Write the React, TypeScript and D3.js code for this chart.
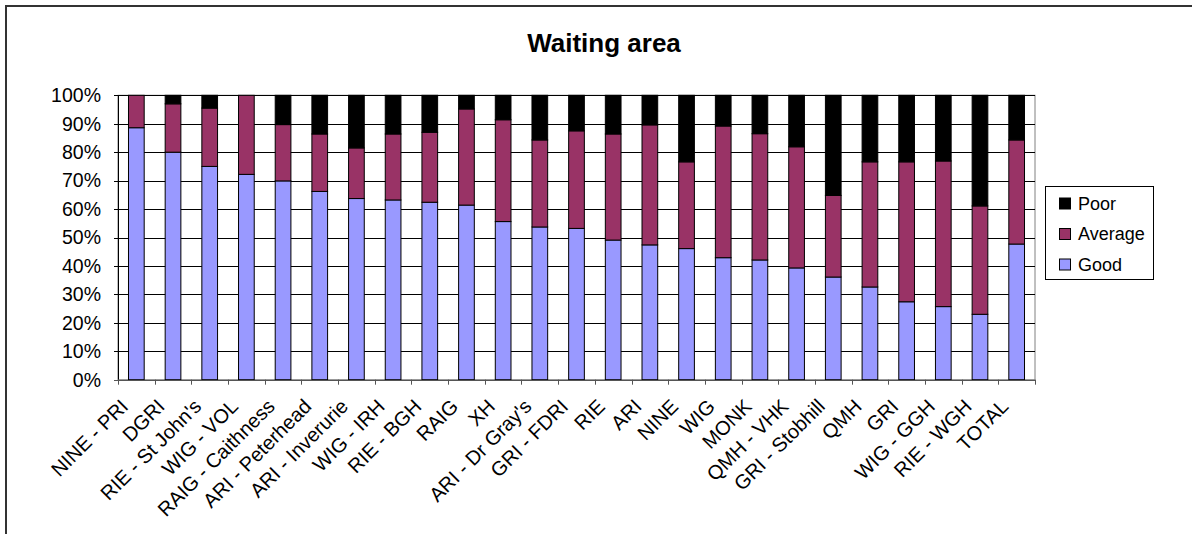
import React from "react";
import * as d3 from "d3";

const categories = [
  "NINE - PRI", "DGRI", "RIE - St John's", "WIG - VOL", "RAIG - Caithness",
  "ARI - Peterhead", "ARI - Inverurie", "WIG - IRH", "RIE - BGH", "RAIG",
  "XH", "ARI - Dr Gray's", "GRI - FDRI", "RIE", "ARI", "NINE", "WIG", "MONK",
  "QMH - VHK", "GRI - Stobhill", "QMH", "GRI", "WIG - GGH", "RIE - WGH", "TOTAL",
];
const good = [
  88.6, 80.0, 75.0, 72.2, 69.9, 66.2, 63.7, 63.2, 62.4, 61.4, 55.6, 53.7, 53.2,
  49.1, 47.4, 46.1, 42.9, 42.1, 39.3, 36.1, 32.6, 27.4, 25.7, 23.0, 47.7,
];
const average = [
  11.4, 17.0, 20.5, 27.8, 19.8, 20.2, 17.8, 23.2, 24.6, 33.8, 35.8, 30.6, 34.3,
  37.3, 42.2, 30.5, 46.3, 44.4, 42.6, 28.7, 44.0, 49.2, 51.2, 38.1, 36.6,
];
const poor = [
  0.0, 3.0, 4.5, 0.0, 10.3, 13.6, 18.5, 13.6, 13.0, 4.8, 8.6, 15.7, 12.5,
  13.6, 10.4, 23.4, 10.8, 13.5, 18.1, 35.2, 23.4, 23.4, 23.1, 38.9, 15.7,
];
const seriesNames = ["Good", "Average", "Poor"];
const seriesColors = ["#9999FF", "#993366", "#000000"];
const yTicks = [0, 10, 20, 30, 40, 50, 60, 70, 80, 90, 100];
const title = "Waiting area";

const W = 1192;
const H = 534;
const plot = { left: 118, right: 1035, top: 95.3, bottom: 379.7 };
const FONT = "'Liberation Sans', Arial, sans-serif";

export default function App() {
  const rows = categories.map((c, i) => ({ cat: c, Good: good[i], Average: average[i], Poor: poor[i] }));
  const stack = d3.stack<any>().keys(seriesNames)(rows);

  const x = d3
    .scaleBand<string>()
    .domain(categories)
    .range([plot.left, plot.right])
    .paddingInner(0.572)
    .paddingOuter(0.286);
  const y = d3.scaleLinear().domain([0, 100]).range([plot.bottom, plot.top]);
  const step = x.step();
  const bw = x.bandwidth();
  const boundaries = categories.map((c) => (x(c) as number) + bw / 2 - step / 2).concat([plot.right]);

  const legendItems = [
    { name: "Poor", color: seriesColors[2] },
    { name: "Average", color: seriesColors[1] },
    { name: "Good", color: seriesColors[0] },
  ];

  return (
    <svg
      width={W}
      height={H}
      style={{ position: "absolute", left: 0, top: 0, background: "#fff" }}
      fontFamily={FONT}
    >
      {/* outer chart frame */}
      <rect x={6} y={6} width={W + 20} height={H + 20} fill="#fff" stroke="#333" strokeWidth={2} />

      <text x={604} y={52} textAnchor="middle" fontSize={26} fontWeight="bold" fill="#000">
        {title}
      </text>

      {/* plot area */}
      <rect
        x={plot.left}
        y={plot.top}
        width={plot.right - plot.left}
        height={plot.bottom - plot.top}
        fill="#fff"
        stroke="#808080"
        strokeWidth={1}
      />
      {yTicks.map((t) => (
        <g key={t}>
          <line x1={plot.left - 4} x2={plot.right} y1={Math.round(y(t)) + 0.5} y2={Math.round(y(t)) + 0.5} stroke="#000" strokeWidth={1} />
          <text x={101} y={y(t)} dy="0.35em" textAnchor="end" fontSize={19.5} fill="#000">
            {t}%
          </text>
        </g>
      ))}

      {/* stacked bars */}
      {stack.map((s, si) => (
        <g key={s.key} fill={seriesColors[si]} stroke="#000" strokeWidth={1}>
          {s.map((d, i) =>
            d[1] - d[0] > 0 ? (
              <rect
                key={i}
                x={x(categories[i]) as number}
                y={y(d[1])}
                width={bw}
                height={y(d[0]) - y(d[1])}
              />
            ) : null
          )}
        </g>
      ))}

      {/* axes */}
      <line x1={plot.left + 0.5} x2={plot.left + 0.5} y1={plot.top} y2={plot.bottom} stroke="#000" />
      <line x1={plot.left - 4} x2={plot.right} y1={Math.round(plot.bottom) + 0.5} y2={Math.round(plot.bottom) + 0.5} stroke="#555" />
      {boundaries.map((bx, i) => (
        <line key={i} x1={Math.round(bx) + 0.5} x2={Math.round(bx) + 0.5} y1={plot.bottom} y2={plot.bottom + 5} stroke="#555" />
      ))}
      {categories.map((c) => {
        const cx = (x(c) as number) + bw / 2;
        const tx = cx - 7;
        const ty = plot.bottom + 28;
        return (
          <text
            key={c}
            x={tx}
            y={ty}
            textAnchor="end"
            fontSize={20}
            fill="#000"
            transform={`rotate(-45 ${tx} ${ty})`}
          >
            {c}
          </text>
        );
      })}

      {/* legend */}
      <rect x={1045.5} y={186.5} width={108} height={93} fill="#fff" stroke="#000" strokeWidth={1} />
      {legendItems.map((it, i) => {
        const cy = 203.5 + i * 30.5;
        return (
          <g key={it.name}>
            <rect x={1059.5} y={cy - 5.5} width={11} height={11} fill={it.color} stroke="#000" strokeWidth={1} />
            <text x={1078} y={cy} dy="0.35em" fontSize={18} fill="#000">
              {it.name}
            </text>
          </g>
        );
      })}
    </svg>
  );
}
